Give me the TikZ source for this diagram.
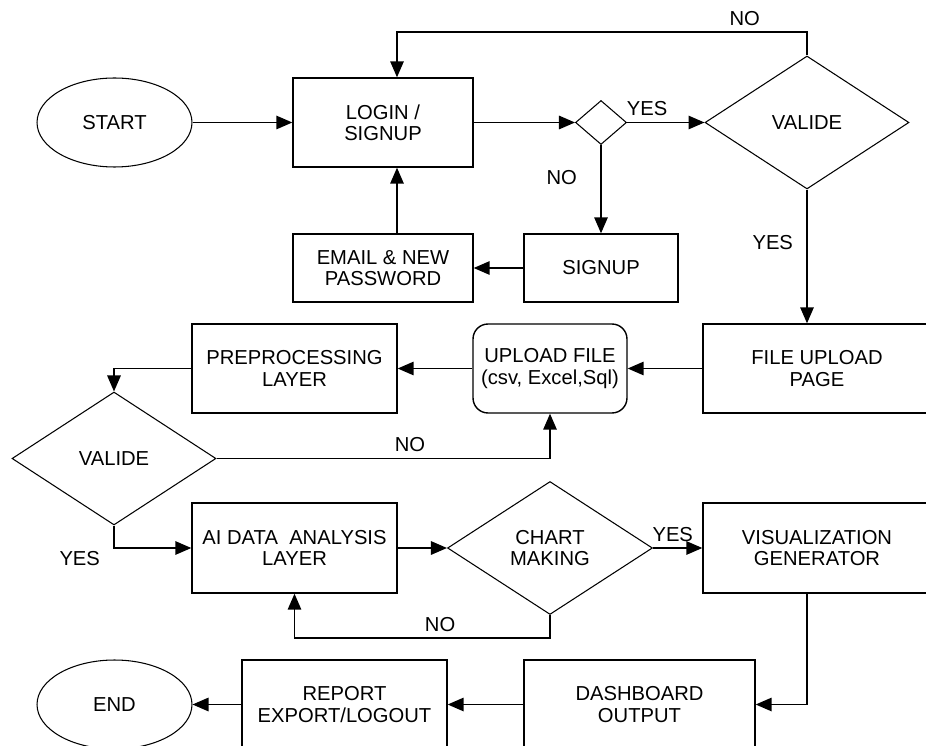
\documentclass[tikz,border=0pt]{standalone}
\usepackage{fontspec}
\setmainfont{Liberation Sans}
\usetikzlibrary{positioning,shapes.geometric,arrows.meta}

\begin{document}
\begin{tikzpicture}[y=-0.02cm,x=0.02cm,
	every node/.style={font=\fontsize{11.5}{12.2}\selectfont, align=center},
	Box/.style={draw, rectangle, line width=0.8pt, inner sep=0pt},
	Decision/.style={draw, diamond, line width=0.6pt, inner sep=0pt},
	Terminal/.style={draw, ellipse, line width=0.6pt, minimum width=3.1cm, minimum height=1.78cm},
	Flow/.style={line width=0.8pt, -{Triangle[length=0.32cm,width=0.27cm]}}]
	\useasboundingbox (0,0) rectangle (926,746);
	\clip (0,0) rectangle (926,746);

	\node[Terminal] (start) at (114.5,122.5) {START};
	\node[Box, minimum width=3.6cm, minimum height=1.78cm] (login) at (383,122.5) {LOGIN /\\SIGNUP};
	\node[Decision, minimum width=1.02cm, minimum height=0.88cm] (ask) at (601,122.5) {};
	\node[Decision, minimum width=4.08cm, minimum height=2.66cm] (validA) at (807,122.5) {VALIDE};
	\node[Box, minimum width=3.08cm, minimum height=1.36cm] (signup) at (601,268) {SIGNUP};
	\node[Box, minimum width=3.6cm, minimum height=1.36cm] (email) at (383,268) {EMAIL \& NEW\\PASSWORD};

	\node[Box, minimum width=4.56cm, minimum height=1.78cm] (filepage) at (817,368.5) {FILE UPLOAD\\PAGE};
	\node[Box, rounded corners=0.3cm, minimum width=3.08cm, minimum height=1.78cm] (upload) at (550,368.5) {UPLOAD FILE\\(csv, Excel,Sql)};
	\node[Box, minimum width=4.1cm, minimum height=1.78cm] (prep) at (294.5,368.5) {PREPROCESSING\\LAYER};
	\node[Decision, minimum width=4.08cm, minimum height=2.66cm] (validB) at (114,458.5) {VALIDE};

	\node[Box, minimum width=4.1cm, minimum height=1.8cm] (ai) at (294.5,548) {AI DATA\ \ ANALYSIS\\LAYER};
	\node[Decision, minimum width=4.1cm, minimum height=2.66cm] (chart) at (550,548) {CHART\\MAKING};
	\node[Box, minimum width=4.56cm, minimum height=1.8cm] (visual) at (817,548) {VISUALIZATION\\GENERATOR};

	\node[Box, minimum width=4.62cm, minimum height=1.78cm] (dash) at (639.5,704.5) {DASHBOARD\\OUTPUT};
	\node[Box, minimum width=4.1cm, minimum height=1.78cm] (report) at (344.5,704.5) {REPORT\\EXPORT/LOGOUT};
	\node[Terminal] (finish) at (114.5,704.5) {END};

	\coordinate (noloop) at (397,32);

	\draw[Flow] (start) -- (login);
	\draw[Flow] (login) -- (ask);
	\draw[Flow] (ask) -- node[above, pos=0.26] {YES} (validA);
	\draw[Flow] (validA.north) |- node[above, pos=0.576] {NO} (noloop) -- (login.north -| noloop);
	\draw[Flow] (ask) -- node[left=0.35cm, pos=0.37] {NO} (signup);
	\draw[Flow] (signup) -- (email);
	\draw[Flow] (email.north -| noloop) -- (login.south -| noloop);
	\draw[Flow] (validA.south) -- node[left=0.15cm, pos=0.4] {YES} (validA.south |- filepage.north);

	\draw[Flow] (filepage) -- (upload);
	\draw[Flow] (upload) -- (prep);
	\draw[Flow] (prep.west) -| (validB.north);
	\draw[Flow] (validB.east) -| node[above, pos=0.29] {NO} (upload.south);
	\draw[Flow] (validB.south) |- node[below left, pos=0.5, xshift=-0.15cm, yshift=0.06cm] {YES} (ai.west);

	\draw[Flow] (ai) -- (chart);
	\draw[Flow] (chart) -- node[above, pos=0.4] {YES} (visual);
	\draw[Flow] (chart.south) -- ++(0,23) -| node[above, pos=0.215] {NO} (ai.south);
	\draw[Flow] (visual.south -| validA.south) |- (dash.east);
	\draw[Flow] (dash) -- (report);
	\draw[Flow] (report) -- (finish);
\end{tikzpicture}
\end{document}
